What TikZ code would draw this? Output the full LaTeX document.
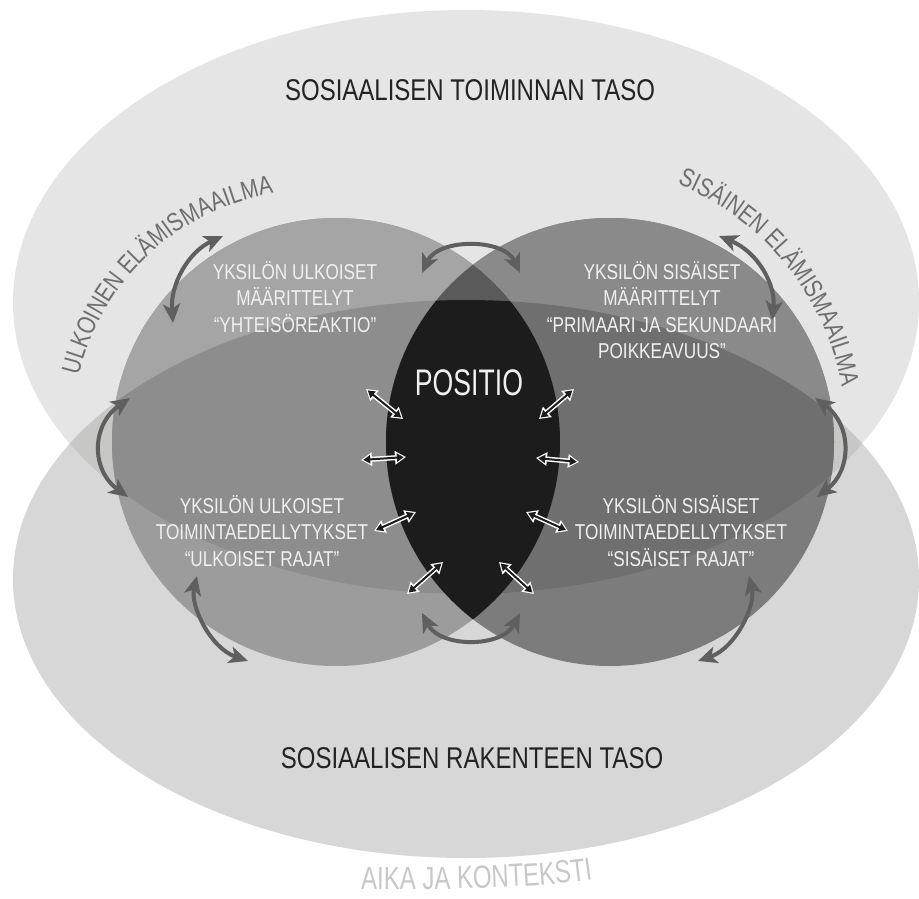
\documentclass[tikz,border=0pt]{standalone}
\usepackage{fontspec}
\setmainfont{Liberation Sans}[FakeStretch=0.8]
\newfontfamily\posfont{Liberation Sans}[FakeStretch=0.72]
\newfontfamily\aikafont{Liberation Sans}[FakeStretch=0.75]
\usetikzlibrary{arrows.meta,decorations.text}
\definecolor{cTop}{RGB}{230,229,230}
\definecolor{cBot}{RGB}{215,215,215}
\definecolor{cBoth}{RGB}{199,199,197}
\definecolor{cLtop}{RGB}{165,165,165}
\definecolor{cLboth}{RGB}{141,141,141}
\definecolor{cLbot}{RGB}{156,156,156}
\definecolor{cRtop}{RGB}{138,138,138}
\definecolor{cRboth}{RGB}{111,111,111}
\definecolor{cRbot}{RGB}{124,124,124}
\definecolor{cLens}{RGB}{90,90,90}
\definecolor{cBlack}{RGB}{28,28,28}
\definecolor{cArrow}{RGB}{95,95,95}
\definecolor{cTitle}{RGB}{35,35,35}
\definecolor{cCurve}{RGB}{110,110,110}
\definecolor{cAika}{RGB}{200,200,200}
\definecolor{cWhite}{RGB}{240,240,240}
\newcommand\curvestyle{\color{cCurve}\fontsize{26}{30}\selectfont}
\newcommand\aikastyle{\color{cAika}\aikafont\fontsize{32}{36}\selectfont}
\tikzset{
  bigarrow/.style={draw=cArrow, line width=4pt,
    {Stealth[length=19pt,width=17pt,inset=5pt]}-{Stealth[length=19pt,width=17pt,inset=5pt]}},
  smallout/.style={draw=white, line width=5pt,
    {Triangle[length=11pt,width=13pt]}-{Triangle[length=11pt,width=13pt]}},
  smallin/.style={draw=cBlack, line width=2pt, shorten <=2.2pt, shorten >=2.2pt,
    {Triangle[length=7pt,width=8pt]}-{Triangle[length=7pt,width=8pt]}},
  whitetext/.style={text=cWhite, align=center, inner sep=0pt, anchor=north,
    font=\fontsize{21.5}{26.5}\selectfont},
  titletext/.style={text=cTitle, inner sep=0pt, anchor=base,
    font=\fontsize{30}{36}\selectfont},
}
\begin{document}
\begin{tikzpicture}[x=1pt,y=-1pt]
\fill[white] (0,0) rectangle (919,899);
\useasboundingbox (0,0) rectangle (919,899);
% outer ellipses
\fill[cTop] (466,302) ellipse [x radius=453pt, y radius=292pt];
\fill[cBot] (466,579) ellipse [x radius=453pt, y radius=279pt];
\begin{scope}
  \clip (466,302) ellipse [x radius=453pt, y radius=292pt];
  \fill[cBoth] (466,579) ellipse [x radius=453pt, y radius=279pt];
\end{scope}
% left circle
\fill[cLbot] (336,442) circle [radius=224pt];
\begin{scope}
  \clip (466,302) ellipse [x radius=453pt, y radius=292pt];
  \fill[cLtop] (336,442) circle [radius=224pt];
  \clip (466,579) ellipse [x radius=453pt, y radius=279pt];
  \fill[cLboth] (336,442) circle [radius=224pt];
\end{scope}
% right circle
\fill[cRbot] (610,442) circle [radius=224pt];
\begin{scope}
  \clip (466,302) ellipse [x radius=453pt, y radius=292pt];
  \fill[cRtop] (610,442) circle [radius=224pt];
  \clip (466,579) ellipse [x radius=453pt, y radius=279pt];
  \fill[cRboth] (610,442) circle [radius=224pt];
\end{scope}
% lens
\begin{scope}
  \clip (336,442) circle [radius=224pt];
  \fill[cLens] (610,442) circle [radius=224pt];
  \clip (466,579) ellipse [x radius=453pt, y radius=279pt];
  \fill[cBlack] (610,442) circle [radius=224pt];
\end{scope}
% curved texts
\path[decorate, decoration={text along path, text align=center,
  text={|\curvestyle|ULKOINEN ELÄMISMAAILMA}}]
  (314,432) ++(169:242pt) arc[start angle=169, end angle=97, radius=242pt];
\path[decorate, decoration={text along path, text align=center,
  text={|\curvestyle|SISÄINEN ELÄMISMAAILMA}}]
  (575,435) ++(68:271pt) arc[start angle=68, end angle=10, radius=271pt];
\path[decorate, decoration={text along path, text align=center,
  text={|\aikastyle|AIKA JA KONTEKSTI}}]
  (352,889) .. controls (450,890) and (545,888) .. (602,878);
% big arrows
\coordinate (a1s) at (173,323); \coordinate (a1e) at (223,236);
\coordinate (a2s) at (422,273); \coordinate (a2e) at (520,273);
\coordinate (a3s) at (719,236); \coordinate (a3e) at (772,320);
\coordinate (a4s) at (130,398); \coordinate (a4e) at (128,497);
\coordinate (a5s) at (815,398); \coordinate (a5e) at (817,497);
\coordinate (a6s) at (197,576); \coordinate (a6e) at (248,661);
\coordinate (a7s) at (422,613); \coordinate (a7e) at (520,613);
\coordinate (a8s) at (749,576); \coordinate (a8e) at (698,661);
\draw[bigarrow] (a1s) .. controls (170,285) and (188,252) .. (a1e);
\draw[bigarrow] (a2s) .. controls (438,238) and (504,238) .. (a2e);
\draw[bigarrow] (a3s) .. controls (758,252) and (776,285) .. (a3e);
\draw[bigarrow] (a4s) .. controls (91,425) and (91,470) .. (a4e);
\draw[bigarrow] (a5s) .. controls (852,425) and (852,470) .. (a5e);
\draw[bigarrow] (a6s) .. controls (190,605) and (210,648) .. (a6e);
\draw[bigarrow] (a7s) .. controls (440,648) and (502,648) .. (a7e);
\draw[bigarrow] (a8s) .. controls (756,605) and (736,648) .. (a8e);
% small arrows around the lens
\coordinate (b1s) at (366,389); \coordinate (b1e) at (403,419);
\coordinate (b2s) at (361,460); \coordinate (b2e) at (406,457);
\coordinate (b3s) at (374,531); \coordinate (b3e) at (416,512);
\coordinate (b4s) at (407,594); \coordinate (b4e) at (443,562);
\coordinate (b5s) at (539,419); \coordinate (b5e) at (574,389);
\coordinate (b6s) at (536,458); \coordinate (b6e) at (579,462);
\coordinate (b7s) at (526,512); \coordinate (b7e) at (568,531);
\coordinate (b8s) at (499,562); \coordinate (b8e) at (534,594);
\foreach \i in {1,...,8}{
  \draw[smallout] (b\i s) -- (b\i e);
  \draw[smallin] (b\i s) -- (b\i e);
}
% texts
\node[titletext] (t1) at (470,100) {SOSIAALISEN TOIMINNAN TASO};
\node[titletext] (t2) at (472,768) {SOSIAALISEN RAKENTEEN TASO};
\node[whitetext] (lu) at (295,261) {YKSILÖN ULKOISET\\MÄÄRITTELYT\\“YHTEISÖREAKTIO”};
\node[whitetext] (ru) at (662,261) {YKSILÖN SISÄISET\\MÄÄRITTELYT\\“PRIMAARI JA SEKUNDAARI\\POIKKEAVUUS”};
\node[whitetext] (lb) at (262,495) {YKSILÖN ULKOISET\\TOIMINTAEDELLYTYKSET\\“ULKOISET RAJAT”};
\node[whitetext] (rb) at (681,495) {YKSILÖN SISÄISET\\TOIMINTAEDELLYTYKSET\\“SISÄISET RAJAT”};
\node[text=cWhite, font=\posfont\fontsize{37}{40}\selectfont, anchor=base, inner sep=0pt] (pos) at (469,395) {POSITIO};
\end{tikzpicture}
\end{document}
